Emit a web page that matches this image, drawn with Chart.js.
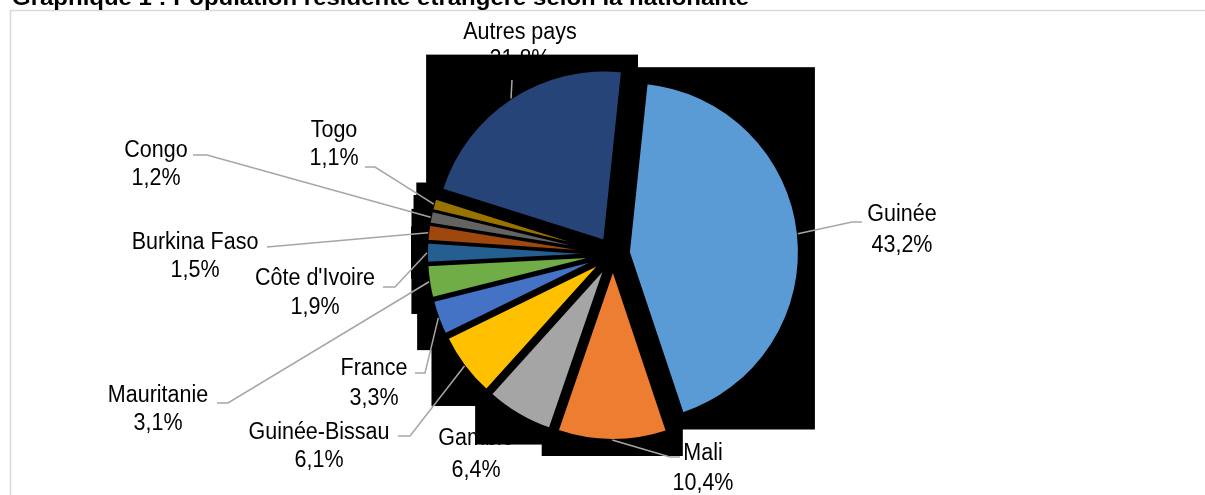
<!DOCTYPE html>
<html><head><meta charset="utf-8">
<script src="https://cdn.jsdelivr.net/npm/chart.js@4"></script>
<style>html,body{margin:0;padding:0;background:#fff;overflow:hidden}canvas{display:block}</style>
</head><body>
<canvas id="c" width="1205" height="495"></canvas>
<script>
const TITLE = 'Graphique 1 : Population résidente étrangère selon la nationalité';
const categories = ['Guinée','Mali','Gambie','Guinée-Bissau','France','Mauritanie',"Côte d'Ivoire",'Burkina Faso','Congo','Togo','Autres pays'];
const shares = [43.2,10.4,6.4,6.1,3.3,3.1,1.9,1.5,1.2,1.1,21.8];
const colors = ['#5B9BD5','#ED7D31','#A5A5A5','#FFC000','#4472C4','#70AD47','#255E91','#9E480E','#636363','#997300','#264478'];

// label placement (text centre x, cap-top of first line, line gap, leader path after arc point)
const labelLayout = [
  {x:902, y:204, gap:31, path:[[852,222],[862,222]]},
  {x:703, y:443, gap:30, path:[[670,457],[680,457]]},
  {x:476, y:428, gap:32, path:null},
  {x:319, y:422, gap:28, path:[[410,436],[398,436]]},
  {x:374, y:358, gap:30, path:[[425,373],[415,373]]},
  {x:158, y:385, gap:28, path:[[228,403],[217,403]]},
  {x:315, y:268, gap:29, path:[[395,287],[383,287]]},
  {x:195, y:232, gap:28, path:[[267,247]]},
  {x:156, y:140, gap:28, path:[[207,155],[193,155]]},
  {x:334, y:120, gap:28, path:[[375,167],[365,167]]},
  {x:520, y:22,  gap:27, path:[[512,80]]}
];

const EXPLODE = 16;
const SHADOW = 16;
const FONT = '21.5px "Liberation Sans", Arial, sans-serif';
const fmt = v => v.toFixed(1).replace('.', ',') + '%';

function shift(el){ const m=(el.startAngle+el.endAngle)/2; return [Math.cos(m)*EXPLODE, Math.sin(m)*EXPLODE]; }
function box(el){
  const [dx,dy]=shift(el); const cx=el.x+dx, cy=el.y+dy, r=el.outerRadius;
  const pts=[[cx,cy],[cx+r*Math.cos(el.startAngle),cy+r*Math.sin(el.startAngle)],[cx+r*Math.cos(el.endAngle),cy+r*Math.sin(el.endAngle)]];
  for(let k=-8;k<=8;k++){const a=k*Math.PI/2; if(a>el.startAngle&&a<el.endAngle) pts.push([cx+r*Math.cos(a),cy+r*Math.sin(a)]);}
  const xs=pts.map(p=>p[0]), ys=pts.map(p=>p[1]);
  return [Math.min(...xs)-SHADOW, Math.min(...ys)-SHADOW, Math.max(...xs)+SHADOW, Math.max(...ys)+SHADOW];
}
function drawText(ctx, t, x, capTop){
  ctx.save(); ctx.translate(x, capTop+17); ctx.scale(1,1.1); ctx.fillText(t,0,0); ctx.restore();
}

const excelPie = {
  id:'excelPie',
  beforeDraw(chart){
    const ctx=chart.ctx;
    ctx.save();
    ctx.fillStyle='#fff'; ctx.fillRect(0,0,chart.width,chart.height);
    ctx.strokeStyle='#D9D9D9'; ctx.lineWidth=1.5; ctx.strokeRect(10.5,10.5,1400,700);
    // title (cut at top)
    ctx.fillStyle='#000'; ctx.font='bold 20px "Liberation Sans", Arial, sans-serif';
    ctx.textAlign='left'; ctx.textBaseline='alphabetic';
    const w=ctx.measureText(TITLE).width;
    ctx.save(); ctx.translate(12,5); ctx.scale(737/w,1.1); ctx.fillText(TITLE,0,0); ctx.restore();
    // labels
    ctx.font=FONT; ctx.textAlign='center';
    categories.forEach((c,i)=>{
      const L=labelLayout[i];
      drawText(ctx,c,L.x,L.y);
      drawText(ctx,fmt(shares[i]),L.x,L.y+L.gap);
    });
    ctx.restore();
  },
  beforeDatasetsDraw(chart){
    const ctx=chart.ctx; const meta=chart.getDatasetMeta(0);
    ctx.save(); ctx.fillStyle='#000';
    meta.data.forEach(el=>{const b=box(el); ctx.fillRect(b[0],b[1],b[2]-b[0],b[3]-b[1]);});
    ctx.restore();
    meta.data.forEach(el=>{
      const [dx,dy]=shift(el);
      ctx.save(); ctx.translate(dx,dy); el.draw(ctx); ctx.restore();
    });
    return false;
  },
  afterDraw(chart){
    const ctx=chart.ctx; const meta=chart.getDatasetMeta(0);
    ctx.save(); ctx.strokeStyle='#A6A6A6'; ctx.lineWidth=1.5; ctx.lineJoin='miter';
    meta.data.forEach((el,i)=>{
      const L=labelLayout[i]; if(!L.path) return;
      const [dx,dy]=shift(el); const m=(el.startAngle+el.endAngle)/2; const r=el.outerRadius;
      ctx.beginPath(); ctx.moveTo(el.x+dx+r*Math.cos(m), el.y+dy+r*Math.sin(m));
      L.path.forEach(p=>ctx.lineTo(p[0],p[1]));
      ctx.stroke();
    });
    ctx.restore();
  }
};

new Chart(document.getElementById('c'), {
  type:'pie',
  data:{labels:categories, datasets:[{data:shares, backgroundColor:colors, borderColor:'#000', borderWidth:2}]},
  options:{
    responsive:false, animation:false, devicePixelRatio:1,
    rotation:6, radius:170,
    layout:{padding:{left:40,right:19,top:30,bottom:17}},
    plugins:{legend:{display:false}, tooltip:{enabled:false}, title:{display:false}}
  },
  plugins:[excelPie]
});
</script>
</body></html>
